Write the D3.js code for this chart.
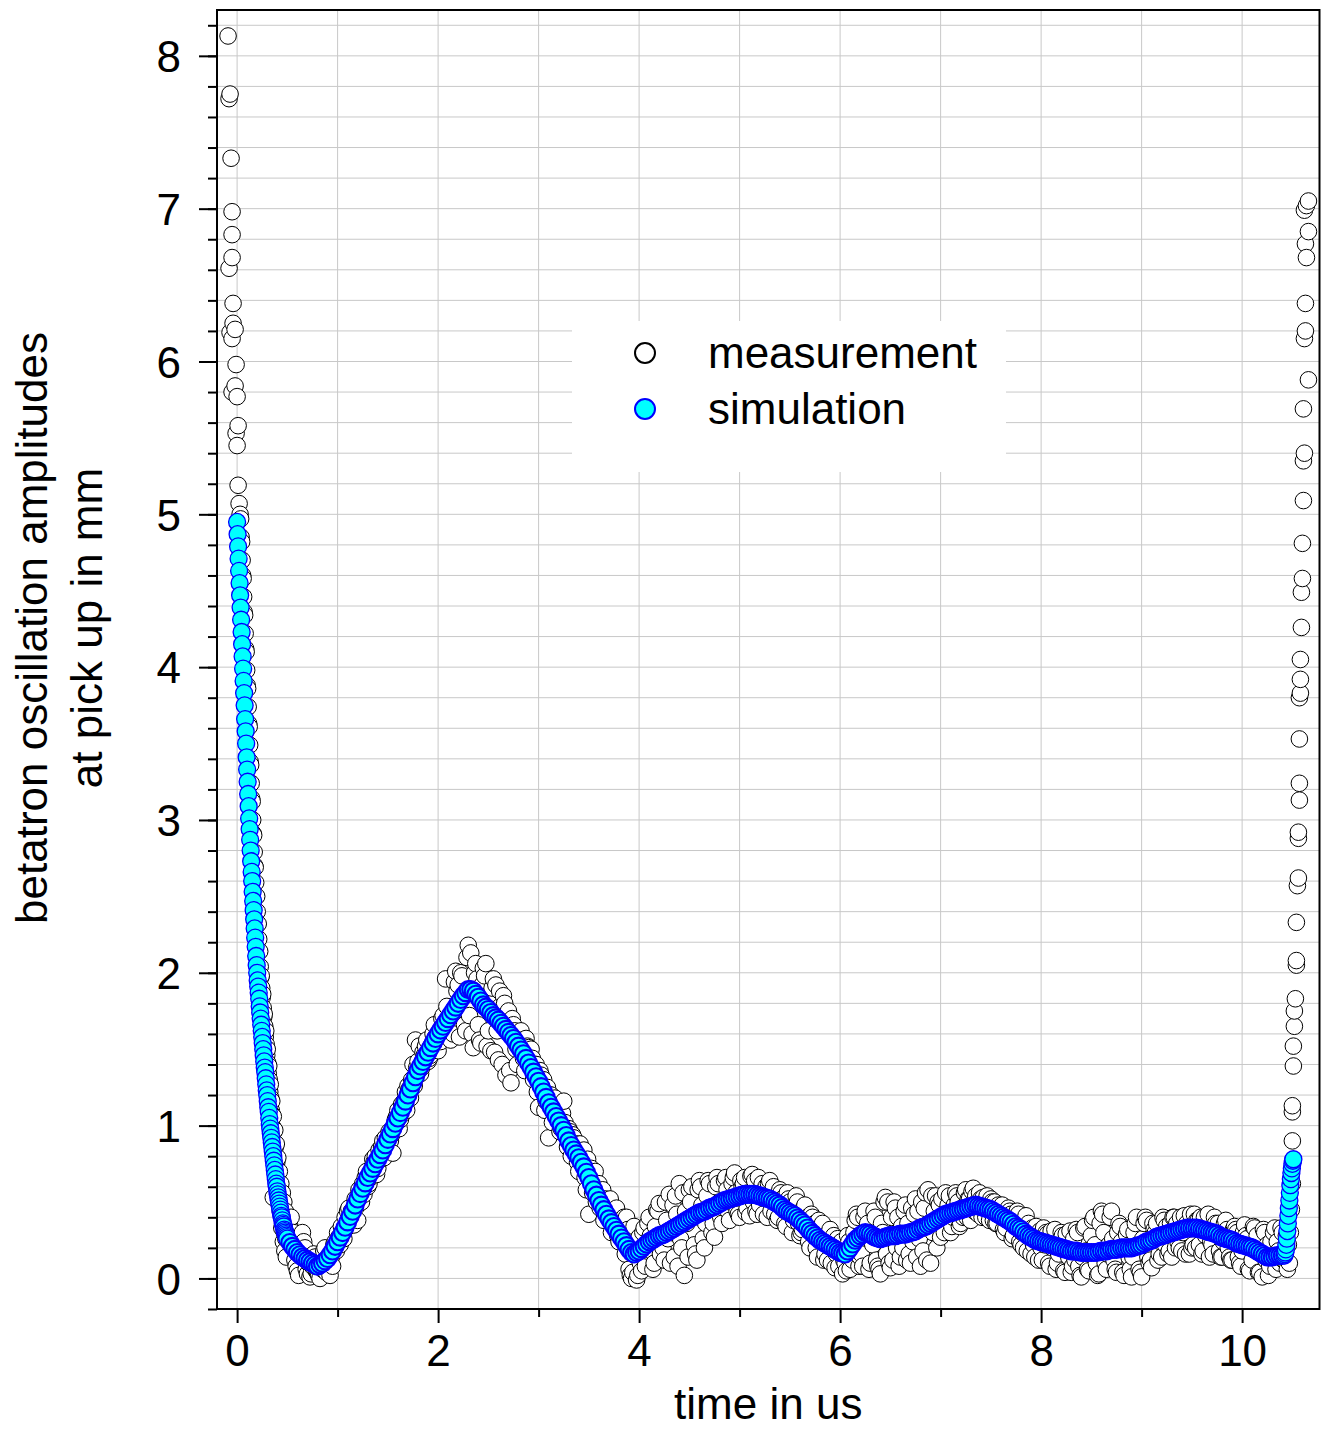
<!DOCTYPE html>
<html>
<head>
<meta charset="utf-8">
<script src="https://cdn.jsdelivr.net/npm/d3@7"></script>
<style>
  body { margin: 0; background: #fff; }
  svg { display: block; }
  text { font-family: "Liberation Sans", Arial, Helvetica, sans-serif; }
</style>
</head>
<body>
<div id="chart"></div>
<script>
// ---- data ----
const xTicks = [0, 2, 4, 6, 8, 10];
const xMinorTicks = [1, 3, 5, 7, 9];
const yTicks = [0, 1, 2, 3, 4, 5, 6, 7, 8];
const seriesNames = ["measurement", "simulation"];
const xTitle = "time in us";
const yTitle = ["betatron oscillation amplitudes", "at pick up in mm"];

// simulation, steep start (t = 0 .. 0.5 us, every 0.005 us)
const simHeadStart = 0, simHeadStep = 0.005;
const simHead = [
  4.95,4.87,4.79,4.71,4.63,4.55,4.47,4.39,4.31,4.23,
  4.15,4.07,3.99,3.91,3.83,3.75,3.66,3.58,3.50,3.41,
  3.33,3.25,3.17,3.09,3.01,2.94,2.87,2.80,2.73,2.66,
  2.60,2.53,2.47,2.41,2.35,2.29,2.23,2.17,2.11,2.05,
  2.00,1.95,1.91,1.87,1.83,1.78,1.74,1.70,1.66,1.62,
  1.58,1.54,1.50,1.46,1.42,1.38,1.35,1.31,1.27,1.23,
  1.20,1.16,1.12,1.09,1.05,1.01,0.98,0.95,0.92,0.89,
  0.86,0.83,0.80,0.77,0.74,0.71,0.68,0.65,0.62,0.60,
  0.57,0.55,0.53,0.51,0.49,0.47,0.45,0.43,0.41,0.40,
  0.38,0.36,0.35,0.34,0.32,0.31,0.30,0.29,0.28,0.27,
  0.26
];

// simulation, main part (t = 0.525 .. 10.40 us, every 0.025 us)
const simBodyStart = 0.525, simBodyStep = 0.025;
const simBody = [
  0.235,0.21,0.19,0.17,0.155,0.14,0.13,0.12,
  0.11,0.10,0.09,0.08,0.09,0.10,0.115,0.13,
  0.155,0.18,0.21,0.24,0.27,0.30,0.335,0.37,
  0.405,0.44,0.48,0.52,0.555,0.59,0.625,0.66,
  0.69,0.72,0.75,0.78,0.81,0.84,0.875,0.91,
  0.945,0.98,1.015,1.05,1.085,1.12,1.16,1.20,
  1.24,1.28,1.32,1.36,1.39,1.42,1.45,1.48,
  1.51,1.54,1.57,1.60,1.625,1.65,1.675,1.70,
  1.725,1.75,1.775,1.80,1.825,1.85,1.87,1.89,
  1.89,1.88,1.86,1.84,1.815,1.79,1.775,1.76,
  1.74,1.72,1.705,1.69,1.67,1.65,1.63,1.61,
  1.59,1.57,1.545,1.52,1.495,1.47,1.44,1.41,
  1.38,1.35,1.32,1.29,1.255,1.22,1.185,1.15,
  1.12,1.09,1.06,1.03,1.00,0.97,0.935,0.90,
  0.87,0.84,0.815,0.79,0.76,0.73,0.695,0.66,
  0.62,0.58,0.545,0.51,0.48,0.45,0.42,0.39,
  0.365,0.34,0.315,0.29,0.265,0.24,0.215,0.19,
  0.17,0.16,0.17,0.18,0.195,0.21,0.225,0.24,
  0.25,0.26,0.27,0.28,0.285,0.29,0.30,0.31,
  0.32,0.33,0.34,0.35,0.36,0.37,0.38,0.39,
  0.40,0.41,0.42,0.43,0.435,0.44,0.45,0.46,
  0.465,0.47,0.48,0.49,0.50,0.51,0.515,0.52,
  0.525,0.53,0.535,0.54,0.545,0.55,0.55,0.55,
  0.55,0.55,0.545,0.54,0.535,0.53,0.525,0.52,
  0.51,0.50,0.49,0.48,0.465,0.45,0.44,0.43,
  0.42,0.41,0.395,0.38,0.365,0.35,0.33,0.31,
  0.295,0.28,0.265,0.25,0.24,0.23,0.22,0.21,
  0.20,0.19,0.18,0.17,0.165,0.16,0.18,0.20,
  0.225,0.25,0.265,0.28,0.29,0.30,0.295,0.29,
  0.28,0.27,0.265,0.26,0.265,0.27,0.275,0.28,
  0.28,0.28,0.285,0.29,0.29,0.29,0.295,0.30,
  0.305,0.31,0.32,0.33,0.335,0.34,0.35,0.36,
  0.37,0.38,0.39,0.40,0.41,0.42,0.425,0.43,
  0.435,0.44,0.445,0.45,0.455,0.46,0.465,0.47,
  0.475,0.48,0.475,0.47,0.465,0.46,0.455,0.45,
  0.44,0.43,0.42,0.41,0.40,0.39,0.38,0.37,
  0.355,0.34,0.33,0.32,0.305,0.29,0.28,0.27,
  0.26,0.25,0.245,0.24,0.235,0.23,0.225,0.22,
  0.215,0.21,0.205,0.20,0.195,0.19,0.185,0.18,
  0.18,0.18,0.175,0.17,0.17,0.17,0.17,0.17,
  0.17,0.17,0.175,0.18,0.18,0.18,0.185,0.19,
  0.19,0.19,0.195,0.20,0.20,0.20,0.20,0.20,
  0.205,0.21,0.215,0.22,0.23,0.24,0.245,0.25,
  0.26,0.27,0.275,0.28,0.285,0.29,0.295,0.30,
  0.305,0.31,0.315,0.32,0.325,0.33,0.33,0.33,
  0.33,0.33,0.325,0.32,0.315,0.31,0.305,0.30,
  0.295,0.29,0.28,0.27,0.265,0.26,0.255,0.25,
  0.24,0.23,0.225,0.22,0.215,0.21,0.205,0.20,
  0.19,0.18,0.17,0.16,0.15,0.14,0.14,0.14,
  0.145,0.15,0.15,0.15
];

// simulation, final rise (t = 10.42 .. 10.51 us, every 0.005 us)
const simTailStart = 10.42, simTailStep = 0.005;
const simTail = [
  0.15,0.16,0.17,0.19,0.22,0.26,0.31,0.36,0.41,0.46,
  0.51,0.56,0.61,0.65,0.69,0.72,0.75,0.77,0.78
];

// measurement, isolated points [t, value]
const measScatter = [
  [-0.09,8.13],[-0.07,7.75],[-0.08,7.72],[-0.06,7.33],[-0.05,6.98],[-0.05,6.83],
  [-0.05,6.68],[-0.08,6.61],[-0.04,6.38],[-0.04,6.25],[-0.02,6.21],[-0.05,6.15],
  [-0.07,6.19],[-0.01,5.98],[-0.02,5.84],[0.00,5.77],[-0.05,5.80],[0.01,5.58],
  [-0.01,5.53],[0.00,5.45],[0.01,5.19],[0.02,5.07],[0.36,0.53]
];

// measurement, steep start (t = 0.03 .. 0.495 us, every 0.005 us)
const measHeadStart = 0.03, measHeadStep = 0.005;
const measHead = [
  5.00,4.97,4.85,4.82,4.70,4.60,4.58,4.46,4.36,4.34,
  4.22,4.12,4.10,3.98,3.88,3.86,3.74,3.63,3.61,3.49,
  3.38,3.36,3.24,3.14,3.12,3.00,2.91,2.90,2.79,2.70,
  2.69,2.59,2.50,2.50,2.40,2.32,2.32,2.22,2.14,2.14,
  2.04,1.97,1.98,1.90,1.84,1.86,1.77,1.71,1.73,1.65,
  1.58,1.62,1.53,1.46,1.50,1.41,1.34,1.39,1.30,1.22,
  1.27,1.18,1.10,1.16,1.07,0.99,1.06,0.96,0.88,0.97,
  0.86,0.78,0.88,0.76,0.66,0.79,0.64,0.55,0.70,0.52,
  0.44,0.62,0.42,0.33,0.56,0.36,0.24,0.50,0.30,0.18,
  0.44,0.26,0.14,0.40
];

// measurement, main part (t = 0.525 .. 10.40 us, every 0.025 us)
const measBodyStart = 0.525, measBodyStep = 0.025;
const measBody = [
  0.34,0.26,0.12,0.05,0.18,0.30,0.20,0.03,
  0.01,0.08,0.14,0.04,0.00,0.06,0.20,0.12,
  0.02,0.08,0.24,0.30,0.22,0.28,0.40,0.44,
  0.36,0.40,0.52,0.38,0.50,0.62,0.66,0.60,
  0.66,0.78,0.80,0.72,0.78,0.90,0.92,0.86,
  0.90,0.82,1.04,1.10,1.04,1.08,1.22,1.26,
  1.18,1.40,1.56,1.42,1.34,1.48,1.52,1.42,
  1.46,1.60,1.58,1.49,1.55,1.72,1.96,1.62,
  1.56,1.60,2.01,1.92,2.00,1.70,1.62,2.18,
  2.13,1.51,2.06,1.66,1.54,2.03,2.06,1.62,
  1.49,1.96,1.92,1.43,1.70,1.85,1.33,1.75,
  1.28,1.66,1.50,1.60,1.62,1.44,1.57,1.51,
  1.50,1.30,1.40,1.12,1.33,1.30,1.16,0.92,
  1.20,1.16,1.06,1.12,0.98,1.16,0.94,0.98,
  0.80,0.92,0.88,0.70,0.82,0.84,0.58,0.42,
  0.72,0.66,0.50,0.62,0.56,0.38,0.50,0.48,
  0.30,0.44,0.46,0.24,0.36,0.40,0.40,0.06,
  0.00,0.34,-0.01,0.27,0.05,0.33,0.18,0.40,
  0.18,0.10,0.45,0.49,0.22,0.12,0.38,0.55,
  0.30,0.14,0.42,0.62,0.20,0.02,0.36,0.58,
  0.60,0.22,0.12,0.64,0.48,0.20,0.54,0.62,
  0.30,0.27,0.66,0.50,0.36,0.64,0.58,0.38,
  0.62,0.69,0.44,0.40,0.60,0.66,0.46,0.41,
  0.68,0.64,0.42,0.48,0.62,0.58,0.40,0.64,
  0.56,0.42,0.38,0.58,0.52,0.36,0.56,0.50,
  0.30,0.44,0.50,0.28,0.32,0.48,0.40,0.20,
  0.40,0.36,0.14,0.30,0.36,0.16,0.12,0.32,
  0.24,0.07,0.26,0.22,0.03,0.10,0.28,0.06,
  0.12,0.38,0.40,0.14,0.08,0.44,0.36,0.10,
  0.22,0.40,0.08,0.03,0.30,0.53,0.50,0.07,
  0.12,0.46,0.40,0.14,0.20,0.48,0.36,0.10,
  0.24,0.52,0.44,0.08,0.18,0.56,0.58,0.10,
  0.30,0.54,0.50,0.27,0.36,0.56,0.48,0.30,
  0.40,0.56,0.50,0.36,0.40,0.58,0.52,0.38,
  0.59,0.54,0.42,0.52,0.53,0.40,0.44,0.52,
  0.38,0.36,0.48,0.46,0.32,0.33,0.46,0.42,
  0.28,0.40,0.42,0.22,0.20,0.41,0.36,0.16,
  0.22,0.34,0.12,0.20,0.33,0.30,0.10,0.31,
  0.24,0.06,0.16,0.30,0.05,0.29,0.14,0.04,
  0.26,0.32,0.08,0.01,0.33,0.18,0.05,0.28,
  0.40,0.10,0.03,0.44,0.30,0.06,0.22,0.44,
  0.12,0.04,0.36,0.24,0.02,0.29,0.14,0.01,
  0.30,0.40,0.06,0.01,0.36,0.38,0.10,0.07,
  0.32,0.36,0.16,0.14,0.38,0.34,0.18,0.14,
  0.40,0.36,0.20,0.18,0.41,0.36,0.16,0.20,
  0.42,0.38,0.22,0.16,0.40,0.34,0.14,0.22,
  0.40,0.30,0.18,0.14,0.36,0.32,0.14,0.12,
  0.34,0.30,0.10,0.18,0.35,0.26,0.05,0.12,
  0.33,0.28,0.04,0.01,0.30,0.22,0.08,0.14,
  0.33,0.24,0.10,0.30
];

// measurement, in-between samples (t = 0.5375 .. 10.4125 us, every 0.025 us)
const measMidStart = 0.5375, measMidStep = 0.025;
const measMid = [
  0.40,0.30,0.08,0.02,0.22,0.24,0.06,0.10,
  0.03,0.16,0.05,0.02,0.10,0.18,0.04,0.07,
  0.14,0.22,0.18,0.27,0.34,0.26,0.33,0.46,
  0.44,0.35,0.47,0.58,0.50,0.55,0.70,0.62,
  0.70,0.76,0.68,0.84,0.86,0.79,0.88,0.96,
  0.94,0.99,1.06,0.98,1.14,1.16,1.10,1.24,
  1.30,1.26,1.38,1.52,1.38,1.46,1.56,1.44,
  1.53,1.66,1.52,1.58,1.70,1.64,1.78,1.67,
  1.64,1.94,1.88,1.58,1.98,1.66,2.10,1.72,
  1.60,2.00,1.96,1.56,1.92,1.98,1.52,1.86,
  1.90,1.48,1.62,1.88,1.40,1.80,1.70,1.36,
  1.70,1.62,1.40,1.58,1.56,1.36,1.52,1.47,
  1.44,1.40,1.22,1.36,1.26,1.10,1.25,1.20,
  1.02,1.18,1.10,0.96,1.08,1.02,0.86,0.96,
  0.94,0.86,0.76,0.88,0.78,0.66,0.78,0.70,
  0.56,0.70,0.58,0.46,0.58,0.52,0.42,0.52,
  0.40,0.36,0.28,0.38,0.30,0.16,0.32,0.02,
  0.04,0.20,0.02,0.10,0.30,0.08,0.36,0.28,
  0.06,0.34,0.44,0.16,0.20,0.50,0.26,0.10,
  0.48,0.54,0.08,0.26,0.56,0.44,0.14,0.50,
  0.40,0.16,0.58,0.60,0.26,0.36,0.64,0.44,
  0.36,0.60,0.62,0.40,0.48,0.66,0.44,0.50,
  0.66,0.56,0.42,0.64,0.62,0.43,0.56,0.67,
  0.50,0.44,0.66,0.56,0.42,0.60,0.62,0.44,
  0.60,0.50,0.40,0.56,0.46,0.34,0.52,0.42,
  0.38,0.54,0.36,0.30,0.46,0.34,0.24,0.42,
  0.30,0.20,0.38,0.28,0.12,0.28,0.26,0.10,
  0.28,0.16,0.08,0.24,0.12,0.05,0.24,0.14,
  0.30,0.42,0.08,0.16,0.40,0.32,0.06,0.30,
  0.44,0.12,0.06,0.36,0.50,0.16,0.10,0.40,
  0.50,0.20,0.08,0.34,0.44,0.12,0.16,0.46,
  0.42,0.14,0.26,0.50,0.46,0.12,0.36,0.54,
  0.44,0.20,0.48,0.52,0.30,0.44,0.54,0.34,
  0.48,0.54,0.34,0.46,0.56,0.40,0.52,0.57,
  0.44,0.50,0.56,0.40,0.48,0.54,0.38,0.50,
  0.50,0.36,0.44,0.48,0.30,0.42,0.44,0.26,
  0.38,0.44,0.24,0.30,0.38,0.18,0.28,0.33,
  0.14,0.28,0.31,0.12,0.22,0.29,0.08,0.20,
  0.32,0.10,0.22,0.28,0.04,0.18,0.31,0.08,
  0.12,0.30,0.02,0.14,0.34,0.06,0.16,0.38,
  0.22,0.02,0.36,0.42,0.10,0.16,0.40,0.26,
  0.06,0.30,0.34,0.04,0.20,0.32,0.06,0.14,
  0.36,0.22,0.04,0.26,0.40,0.14,0.12,0.36,
  0.30,0.12,0.24,0.40,0.22,0.16,0.36,0.40,
  0.20,0.24,0.40,0.30,0.16,0.34,0.42,0.22,
  0.20,0.38,0.40,0.18,0.28,0.42,0.24,0.16,
  0.36,0.36,0.14,0.24,0.38,0.20,0.12,0.32,
  0.32,0.14,0.08,0.30,0.28,0.06,0.20,0.34,
  0.20,0.04,0.16,0.32,0.12,0.02,0.24,0.30,
  0.06,0.18,0.33,0.12
];

// measurement, final rise [t, value]
const measTail = [
  [10.42,0.12],[10.44,0.28],[10.45,0.06],[10.46,0.22],[10.47,0.10],[10.48,0.30],
  [10.49,0.45],[10.50,0.62],[10.50,0.90],[10.50,1.09],[10.50,1.13],[10.51,1.39],
  [10.51,1.52],[10.52,1.65],[10.52,1.75],[10.53,1.83],[10.54,2.05],[10.54,2.08],
  [10.54,2.33],[10.55,2.57],[10.56,2.62],[10.56,2.88],[10.56,2.92],[10.57,3.13],
  [10.57,3.24],[10.57,3.53],[10.57,3.80],[10.58,3.83],[10.58,3.92],[10.58,4.05],
  [10.59,4.26],[10.59,4.49],[10.60,4.58],[10.60,4.81],[10.61,5.09],[10.61,5.35],
  [10.62,5.40],[10.61,5.69],[10.66,5.88],[10.62,6.15],[10.63,6.20],[10.63,6.38],
  [10.64,6.68],[10.63,6.77],[10.66,6.85],[10.62,6.99],[10.64,7.02],[10.66,7.05]
];

// ---- build point lists ----
const sampled = (start, step, vals, part) => vals.map((v, i) => ({ t: start + i * step, v, part }));
const pairs = (arr, part) => arr.map(d => ({ t: d[0], v: d[1], part }));

const measPts = [
  ...pairs(measScatter, "steep"),
  ...sampled(measHeadStart, measHeadStep, measHead, "steep"),
  ...sampled(measBodyStart, measBodyStep, measBody, "main"),
  ...sampled(measMidStart, measMidStep, measMid, "main"),
  ...pairs(measTail, "steep")
].sort((a, b) => a.t - b.t);

const simPts = [
  ...sampled(simHeadStart, simHeadStep, simHead, "steep"),
  ...sampled(simBodyStart, simBodyStep, simBody, "main"),
  ...sampled(simTailStart, simTailStep, simTail, "steep")
];

// ---- chart ----
const W = 1324, H = 1429;
const svg = d3.select("#chart").append("svg")
  .attr("width", W).attr("height", H);

const x = d3.scaleLinear().domain([-0.2, 10.77]).range([217, 1319.5]);
const y = d3.scaleLinear().domain([-0.2, 8.3]).range([1309, 10]);
const [x0, x1] = x.range();
const [y0, y1] = y.range();

// grid
const grid = svg.append("g").attr("stroke", "#c8c8c8").attr("stroke-width", 1);
grid.selectAll(".gx").data(d3.range(0, 11)).enter().append("line")
  .attr("x1", d => x(d)).attr("x2", d => x(d))
  .attr("y1", y1).attr("y2", y0);
grid.selectAll(".gy").data(d3.range(0, 42).map(i => i * 0.2)).enter().append("line")
  .attr("x1", x0).attr("x2", x1)
  .attr("y1", d => y(d)).attr("y2", d => y(d));

// legend background (hides grid)
svg.append("rect")
  .attr("x", 572).attr("y", 321).attr("width", 434).attr("height", 151)
  .attr("fill", "#fff");

// measurement
svg.append("g").selectAll("circle").data(measPts).enter().append("circle")
  .attr("cx", d => x(d.t)).attr("cy", d => y(d.v)).attr("r", 8.3)
  .attr("fill", "#fff").attr("stroke", "#000").attr("stroke-width", 1);

// simulation
svg.append("g").selectAll("circle").data(simPts).enter().append("circle")
  .attr("cx", d => x(d.t)).attr("cy", d => y(d.v)).attr("r", 8.5)
  .attr("fill", "#00ffff").attr("stroke", "#0000ff")
  .attr("stroke-width", d => d.part === "main" ? 2.1 : 1.3);

// axes
const yAxis = svg.append("g").attr("transform", `translate(${x0},0)`)
  .call(d3.axisLeft(y).tickValues(yTicks).tickSize(18).tickPadding(18).tickSizeOuter(0));
svg.append("g").attr("transform", `translate(${x0},0)`)
  .call(d3.axisLeft(y).tickValues(d3.range(-1, 42).map(i => i * 0.2)).tickSize(9).tickFormat("").tickSizeOuter(0));
svg.append("g").attr("transform", `translate(0,${y0})`)
  .call(d3.axisBottom(x).tickValues(xTicks).tickSize(14).tickPadding(12).tickSizeOuter(0));
svg.append("g").attr("transform", `translate(0,${y0})`)
  .call(d3.axisBottom(x).tickValues(xMinorTicks).tickSize(8).tickFormat("").tickSizeOuter(0));

svg.selectAll(".domain").remove();
svg.selectAll(".tick line").attr("stroke", "#000").attr("stroke-width", 2);
svg.selectAll(".tick text").attr("fill", "#000").style("font-size", "44px")
  .style("font-family", '"Liberation Sans", Arial, Helvetica, sans-serif');
yAxis.selectAll(".tick text").attr("dy", "0.36em");

// frame
svg.append("rect")
  .attr("x", x0).attr("y", y1).attr("width", x1 - x0).attr("height", y0 - y1)
  .attr("fill", "none").attr("stroke", "#000").attr("stroke-width", 2);

// axis titles
svg.append("text")
  .attr("x", (x0 + x1) / 2).attr("y", 1419)
  .attr("text-anchor", "middle").style("font-size", "44px")
  .text(xTitle);

yTitle.forEach((t, i) => {
  svg.append("text")
    .attr("transform", `translate(${47 + i * 55},${628}) rotate(-90)`)
    .attr("text-anchor", "middle").style("font-size", "44px")
    .text(t);
});

// legend
const legend = svg.append("g");
legend.append("circle").attr("cx", 645).attr("cy", 353).attr("r", 10)
  .attr("fill", "#fff").attr("stroke", "#000").attr("stroke-width", 2);
legend.append("circle").attr("cx", 645).attr("cy", 409).attr("r", 10)
  .attr("fill", "#00ffff").attr("stroke", "#0000ff").attr("stroke-width", 2);
seriesNames.forEach((name, i) => {
  legend.append("text")
    .attr("x", 708).attr("y", 368 + i * 56)
    .style("font-size", "44px")
    .text(name);
});
</script>
</body>
</html>
